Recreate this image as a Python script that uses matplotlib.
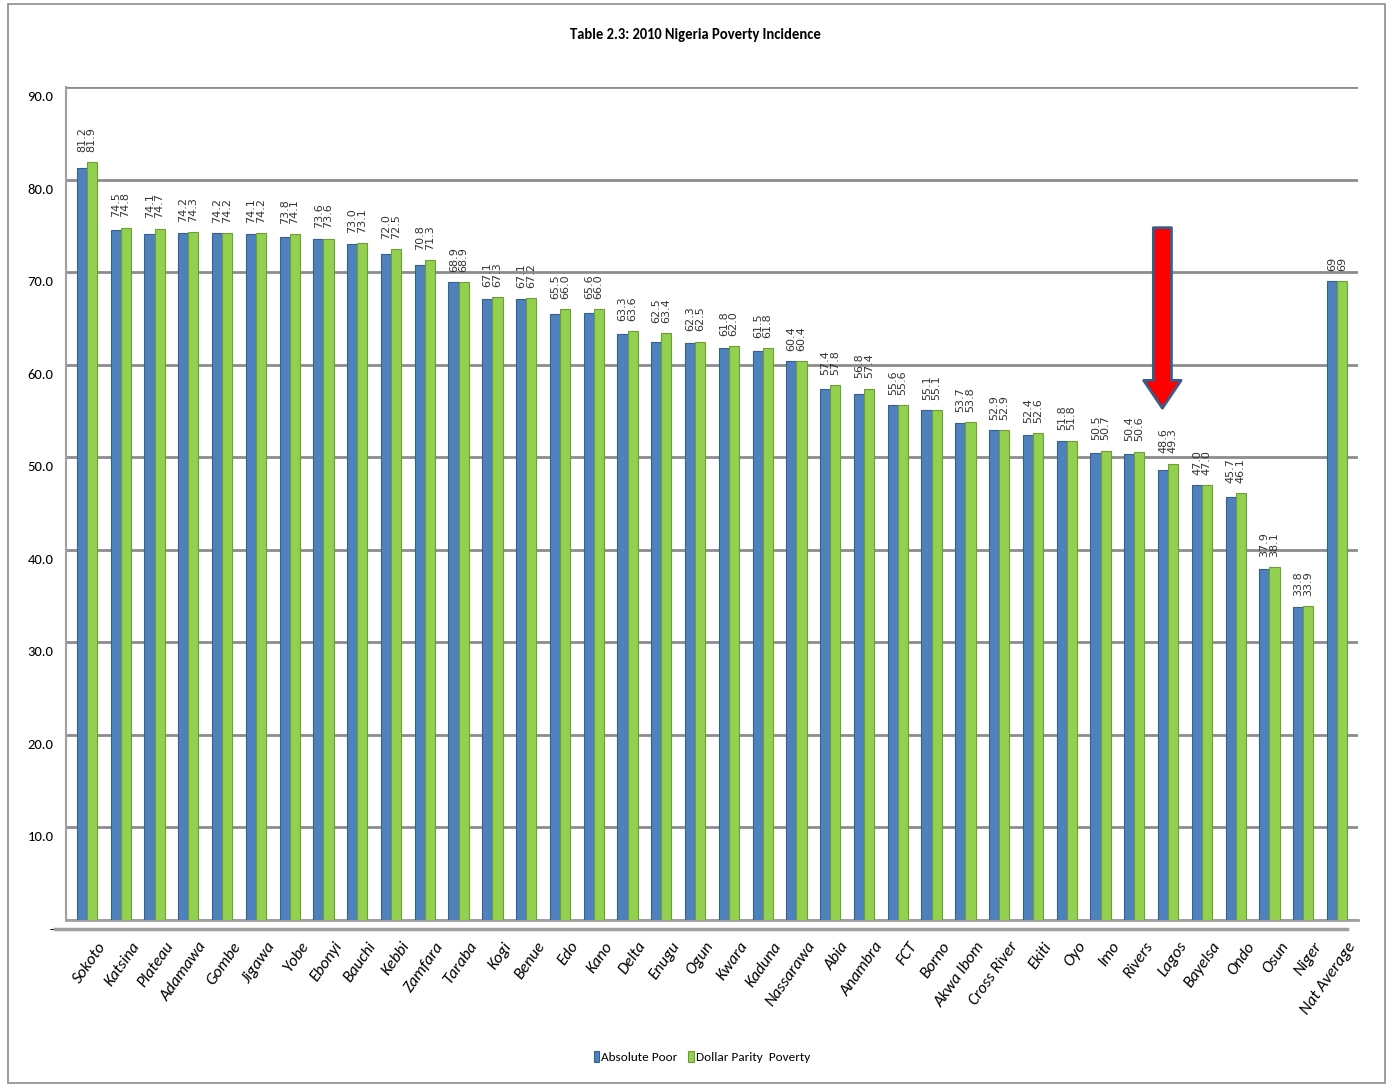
import matplotlib
matplotlib.use("Agg")
import matplotlib.pyplot as plt
import matplotlib.transforms as mtransforms
from matplotlib.patches import Rectangle
import numpy as np

states = ["Sokoto", "Katsina", "Plateau", "Adamawa", "Gombe", "Jigawa", "Yobe", "Ebonyi",
          "Bauchi", "Kebbi", "Zamfara", "Taraba", "Kogi", "Benue", "Edo", "Kano", "Delta",
          "Enugu", "Ogun", "Kwara", "Kaduna", "Nassarawa", "Abia", "Anambra", "FCT", "Borno",
          "Akwa Ibom", "Cross River", "Ekiti", "Oyo", "Imo", "Rivers", "Lagos", "Bayelsa",
          "Ondo", "Osun", "Niger", "Nat Average"]
absolute_poor = [81.2, 74.5, 74.1, 74.2, 74.2, 74.1, 73.8, 73.6, 73.0, 72.0, 70.8, 68.9,
                 67.1, 67.1, 65.5, 65.6, 63.3, 62.5, 62.3, 61.8, 61.5, 60.4, 57.4, 56.8,
                 55.6, 55.1, 53.7, 52.9, 52.4, 51.8, 50.5, 50.4, 48.6, 47.0, 45.7, 37.9,
                 33.8, 69]
dollar_parity = [81.9, 74.8, 74.7, 74.3, 74.2, 74.2, 74.1, 73.6, 73.1, 72.5, 71.3, 68.9,
                 67.3, 67.2, 66.0, 66.0, 63.6, 63.4, 62.5, 62.0, 61.8, 60.4, 57.8, 57.4,
                 55.6, 55.1, 53.8, 52.9, 52.6, 51.8, 50.7, 50.6, 49.3, 47.0, 46.1, 38.1,
                 33.9, 69]
yticks = [0, 10, 20, 30, 40, 50, 60, 70, 80, 90]
ytick_labels = ["-", "10.0", "20.0", "30.0", "40.0", "50.0", "60.0", "70.0", "80.0", "90.0"]
highlight = "Lagos"
arrow_from, arrow_to = 74.8, 55.3

cal = ["Carlito", "DejaVu Sans"]

fig = plt.figure(figsize=(13.9, 10.85), dpi=100)
ax = fig.add_axes([66 / 1390, 1 - 920 / 1085, (1358 - 66) / 1390, (920 - 87) / 1085])

x = np.arange(len(states))
w = 0.30
blue, green = "#4F81BD", "#92D050"
ax.bar(x - w / 2, absolute_poor, w, color=blue, edgecolor="#35608F", linewidth=0.8,
       label="Absolute Poor", zorder=3)
ax.bar(x + w / 2, dollar_parity, w, color=green, edgecolor="#6E9E35", linewidth=0.8,
       label="Dollar Parity  Poverty", zorder=3)

for i, (a, d) in enumerate(zip(absolute_poor, dollar_parity)):
    if states[i] == "Nat Average":
        txt = f"{a:g}\n{d:g}"
    else:
        txt = f"{a:.1f}\n{d:.1f}"
    ax.annotate(txt, xy=(i, max(a, d)), xytext=(0, 7.5), textcoords="offset points",
                rotation=90, ha="center", va="bottom", fontsize=8,
                family="DejaVu Sans", color="#333333", linespacing=0.95)

ax.set_xlim(-0.62, len(states) - 1 + 0.62)
ax.set_ylim(0, 90)
ax.set_yticks(yticks)
ax.set_yticklabels(ytick_labels, family=cal, fontsize=10.5)
ax.set_xticks(x)
ax.set_xticklabels(states, rotation=55, ha="right", rotation_mode="anchor",
                   family=cal, fontstyle="italic", fontsize=12)
ax.tick_params(axis="both", length=0)
ax.tick_params(axis="y", pad=9)
ax.tick_params(axis="x", pad=14)
off = mtransforms.ScaledTranslation(0, -0.09, fig.dpi_scale_trans)
for lab in ax.get_yticklabels():
    lab.set_transform(lab.get_transform() + off)
offx = mtransforms.ScaledTranslation(0.1, 0, fig.dpi_scale_trans)
for lab in ax.get_xticklabels():
    lab.set_transform(lab.get_transform() + offx)

ax.grid(axis="y", color="#8C8C8C", linewidth=2, zorder=0)
ax.set_axisbelow(True)
for s in ["top", "right", "bottom"]:
    ax.spines[s].set_visible(False)
ax.spines["left"].set_color("#A0A0A0")
ax.spines["left"].set_linewidth(1.5)

# 3-D style floor: back edge at zero plus a front edge shifted down-left
front = ax.transData + mtransforms.ScaledTranslation(-0.11, -0.09, fig.dpi_scale_trans)
xl = ax.get_xlim()
ax.plot([xl[0], xl[1]], [0, 0], color="#A0A0A0", lw=2, zorder=2, clip_on=False)
ax.plot([xl[0], xl[1]], [0, 0], color="#A0A0A0", lw=2.5, zorder=4,
        clip_on=False, transform=front)

hi = states.index(highlight) - 0.17
ax.annotate("", xy=(hi, arrow_to), xytext=(hi, arrow_from),
            arrowprops=dict(arrowstyle="simple,head_width=2.7,head_length=2.0,tail_width=1.3",
                            mutation_scale=10, fc="#FF0000", ec="#385D8A", lw=2,
                            shrinkA=0, shrinkB=0), zorder=5)

fig.text(0.5, 1 - 35 / 1085, "Table 2.3: 2010 Nigeria Poverty Incidence",
         ha="center", va="center", fontsize=10.5, fontweight="bold", family=cal)

fig.legend(loc="center", bbox_to_anchor=(702 / 1390, 1 - 1057 / 1085), ncol=2, frameon=False,
           prop={"family": cal, "size": 9.5}, handlelength=0.45, handleheight=0.9,
           handletextpad=0.15, columnspacing=0.8)

fig.patches.append(Rectangle((8 / 1390, 2 / 1085), 1377 / 1390, 1079 / 1085,
                             transform=fig.transFigure, fill=False,
                             edgecolor="#8C8C8C", linewidth=1.2))

fig.savefig("out.png", dpi=100)
